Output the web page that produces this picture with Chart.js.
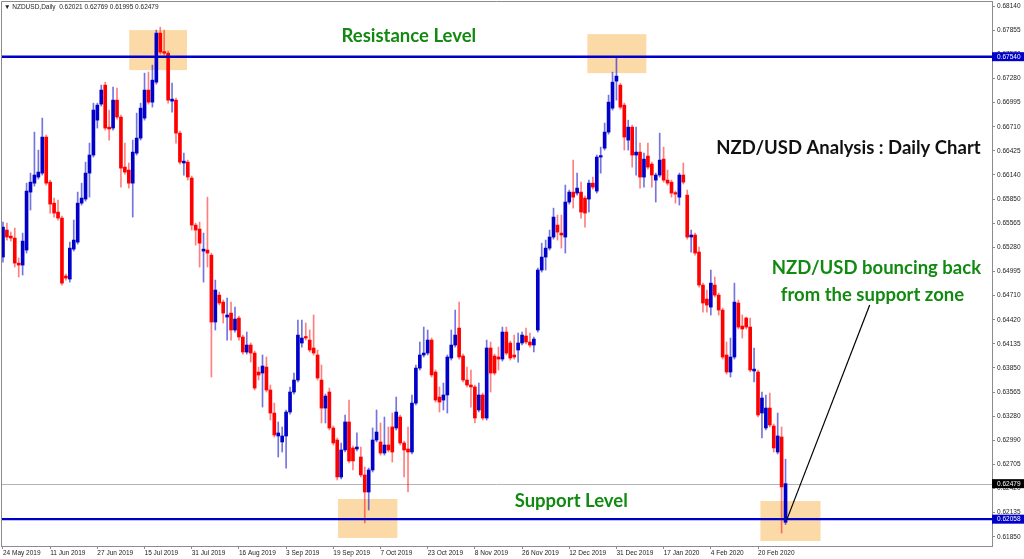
<!DOCTYPE html>
<html>
<head>
<meta charset="utf-8">
<script src="https://cdn.jsdelivr.net/npm/chart.js@4.4.0/dist/chart.umd.min.js"></script>
<style>
  html, body { margin: 0; padding: 0; background: #fff; }
  #wrap { width: 1024px; height: 559px; position: relative; }
</style>
</head>
<body>
<div id="wrap"><canvas id="chart"></canvas></div>
<script>
// NZDUSD daily candles, 24 May 2019 .. 2 Mar 2020
const opens = [
  0.65165,0.65485,0.65413,0.65390,0.65093,0.65070,0.65248,0.65935,0.66041,0.66113,
  0.66160,0.66587,0.66053,0.65804,0.65698,0.65627,0.64940,0.64904,0.65259,0.65342,
  0.65804,0.65852,0.66160,0.66374,0.66788,0.66978,0.67203,0.66705,0.66694,0.67025,
  0.66824,0.66231,0.66196,0.66041,0.66397,0.66575,0.66812,0.67144,0.67001,0.67238,
  0.67819,0.67594,0.67582,0.67013,0.67025,0.66634,0.66279,0.66290,0.66101,0.65544,
  0.65497,0.65236,0.65248,0.65188,0.64395,0.64714,0.64631,0.64454,0.64501,0.64300,
  0.64442,0.64217,0.64039,0.64122,0.64027,0.63802,0.63790,0.63861,0.63589,0.63316,
  0.63044,0.62973,0.63044,0.63328,0.63565,0.63707,0.64146,0.64217,0.64181,0.64087,
  0.64004,0.63707,0.63375,0.63565,0.63139,0.62996,0.62558,0.62878,0.63210,0.62902,
  0.62890,0.62795,0.62582,0.62380,0.62641,0.62996,0.62973,0.62842,0.62937,0.63151,
  0.63139,0.63269,0.62961,0.62890,0.62854,0.63434,0.63849,0.64004,0.64027,0.64181,
  0.63802,0.63506,0.63470,0.63530,0.63968,0.64122,0.64323,0.63992,0.63707,0.63648,
  0.63625,0.63352,0.63530,0.63257,0.64087,0.63992,0.63980,0.63956,0.64276,0.64146,
  0.64004,0.64063,0.64146,0.64229,0.64158,0.64122,0.64300,0.65011,0.65165,0.65271,
  0.65402,0.65544,0.65449,0.65402,0.65817,0.65935,0.65923,0.65935,0.65864,0.65852,
  0.66041,0.65947,0.66350,0.66456,0.66646,0.66930,0.67250,0.67203,0.66966,0.66551,
  0.66705,0.66374,0.66409,0.66113,0.66362,0.66267,0.66077,0.66137,0.66326,0.66077,
  0.66053,0.65923,0.65875,0.66137,0.65899,0.65402,0.65426,0.65224,0.64833,0.64667,
  0.64572,0.64833,0.64714,0.64537,0.64004,0.63802,0.63980,0.64620,0.64347,0.64442,
  0.64335,0.63814,0.63802,0.63316,0.63139,0.63375,0.63162,0.62854,0.63032,0.62021
];
const highs = [
  0.65579,0.65567,0.65461,0.65509,0.65153,0.65449,0.66041,0.66160,0.66646,0.66433,
  0.66812,0.66611,0.66077,0.65864,0.65840,0.65651,0.64964,0.65342,0.65603,0.65935,
  0.66041,0.66290,0.66516,0.66989,0.66989,0.67203,0.67238,0.66907,0.67179,0.67167,
  0.66848,0.66516,0.66279,0.66551,0.66871,0.66989,0.67345,0.67357,0.67440,0.67855,
  0.67890,0.67855,0.67606,0.67226,0.67049,0.66658,0.66397,0.66314,0.66125,0.65567,
  0.65579,0.65449,0.65875,0.65212,0.64892,0.64750,0.64655,0.64679,0.64631,0.64572,
  0.64466,0.64240,0.64276,0.64146,0.64051,0.63861,0.64004,0.63980,0.63648,0.63434,
  0.63210,0.63151,0.63352,0.63625,0.63790,0.64418,0.64418,0.64383,0.64300,0.64478,
  0.64063,0.63885,0.63541,0.63612,0.63162,0.63020,0.62961,0.63293,0.63470,0.62925,
  0.63080,0.62913,0.62676,0.62664,0.63139,0.63352,0.63198,0.63269,0.63151,0.63316,
  0.63506,0.63293,0.62985,0.63151,0.63530,0.63885,0.64158,0.64335,0.64300,0.64205,
  0.63826,0.63625,0.63672,0.64004,0.64300,0.64537,0.64631,0.64015,0.63861,0.63826,
  0.63648,0.63672,0.63553,0.64181,0.64158,0.64015,0.64098,0.64335,0.64335,0.64169,
  0.64240,0.64264,0.64276,0.64323,0.64264,0.64217,0.65034,0.65330,0.65366,0.65485,
  0.65745,0.65662,0.65662,0.66018,0.65959,0.66314,0.66160,0.66053,0.65887,0.66077,
  0.66113,0.66374,0.66468,0.66753,0.67084,0.67357,0.67535,0.67226,0.66989,0.66788,
  0.66729,0.66705,0.66516,0.66397,0.66516,0.66290,0.66160,0.66634,0.66468,0.66196,
  0.66077,0.65947,0.66160,0.66279,0.65959,0.65485,0.65449,0.65283,0.64856,0.64774,
  0.65011,0.64928,0.64738,0.64560,0.64158,0.64205,0.64856,0.64655,0.64478,0.64454,
  0.64442,0.64087,0.63826,0.63565,0.63530,0.63553,0.63186,0.63316,0.63151,0.62769
];
const lows = [
  0.65105,0.65366,0.65354,0.65046,0.64928,0.64952,0.65212,0.65722,0.66006,0.66089,
  0.66137,0.66018,0.65686,0.65639,0.65603,0.64833,0.64892,0.64868,0.65236,0.65319,
  0.65781,0.65828,0.65875,0.66350,0.66694,0.66954,0.66670,0.66551,0.66670,0.66800,
  0.65994,0.66148,0.65982,0.65639,0.66374,0.66551,0.66788,0.66978,0.66942,0.67215,
  0.67570,0.67559,0.66989,0.66883,0.66516,0.66267,0.66137,0.66077,0.65485,0.65307,
  0.65046,0.64868,0.65046,0.63743,0.64300,0.64596,0.64383,0.64181,0.64181,0.64276,
  0.64181,0.64015,0.64015,0.63920,0.63589,0.63707,0.63387,0.63565,0.63233,0.63032,
  0.62795,0.62854,0.62664,0.63304,0.63541,0.63684,0.64098,0.64181,0.64039,0.64004,
  0.63707,0.63198,0.63198,0.63115,0.62937,0.62522,0.62534,0.62854,0.62724,0.62641,
  0.62866,0.62558,0.62013,0.62167,0.62617,0.62973,0.62818,0.62818,0.62854,0.62735,
  0.63115,0.62937,0.62558,0.62380,0.62830,0.63411,0.63826,0.63980,0.64004,0.63743,
  0.63446,0.63328,0.63352,0.63316,0.63944,0.64098,0.63956,0.63684,0.63625,0.63387,
  0.63198,0.63328,0.63233,0.63233,0.63565,0.63767,0.63826,0.63932,0.64004,0.63944,
  0.63956,0.63920,0.64122,0.64134,0.64098,0.64039,0.64276,0.64987,0.65011,0.65248,
  0.65378,0.65366,0.65271,0.65212,0.65793,0.65745,0.65899,0.65627,0.65520,0.65698,
  0.65970,0.65923,0.66160,0.66433,0.66622,0.66907,0.67025,0.66919,0.66433,0.66433,
  0.66231,0.66137,0.65982,0.65994,0.66208,0.65994,0.65817,0.66113,0.66053,0.66018,
  0.65875,0.65804,0.65781,0.66030,0.65378,0.65224,0.65188,0.64809,0.64513,0.64513,
  0.64478,0.64691,0.64478,0.63956,0.63778,0.63743,0.63956,0.64312,0.64205,0.64312,
  0.63802,0.63684,0.63269,0.63020,0.63115,0.63151,0.62854,0.62830,0.61894,0.61995
];
const closes = [
  0.65520,0.65402,0.65390,0.65093,0.65070,0.65354,0.65947,0.66053,0.66137,0.66172,
  0.66587,0.66041,0.65793,0.65686,0.65627,0.64856,0.64916,0.65271,0.65366,0.65804,
  0.65864,0.66160,0.66374,0.66907,0.66966,0.67144,0.66694,0.66682,0.67025,0.66824,
  0.66219,0.66172,0.66041,0.66409,0.66575,0.66930,0.67144,0.67001,0.67262,0.67819,
  0.67594,0.67582,0.67025,0.67037,0.66634,0.66290,0.66302,0.66113,0.65544,0.65485,
  0.65330,0.65259,0.65212,0.64395,0.64774,0.64620,0.64501,0.64478,0.64300,0.64430,
  0.64217,0.64039,0.64122,0.64027,0.63612,0.63767,0.63873,0.63589,0.63316,0.63056,
  0.63080,0.63044,0.63328,0.63565,0.63707,0.64240,0.64205,0.64205,0.64063,0.64027,
  0.63731,0.63375,0.63517,0.63139,0.62961,0.62558,0.62878,0.63210,0.62748,0.62748,
  0.62913,0.62582,0.62380,0.62641,0.62996,0.63091,0.62842,0.62937,0.62878,0.62854,
  0.63328,0.62961,0.62878,0.62854,0.63434,0.63849,0.64004,0.64027,0.64181,0.63767,
  0.63470,0.63446,0.63530,0.63980,0.64122,0.64240,0.63980,0.63707,0.63648,0.63625,
  0.63257,0.63530,0.63257,0.64087,0.63790,0.63790,0.63956,0.64276,0.64027,0.63968,
  0.63980,0.64146,0.64240,0.64158,0.64122,0.64193,0.65011,0.65165,0.65271,0.65402,
  0.65639,0.65461,0.65426,0.65817,0.65935,0.65875,0.65982,0.65698,0.65686,0.66041,
  0.65994,0.66350,0.66362,0.66646,0.67001,0.67238,0.67310,0.66942,0.66587,0.66705,
  0.66374,0.66409,0.66113,0.66326,0.66231,0.66137,0.66137,0.66314,0.66077,0.66041,
  0.65923,0.65911,0.66137,0.66053,0.65402,0.65426,0.65212,0.64833,0.64620,0.64596,
  0.64856,0.64714,0.64537,0.63980,0.63802,0.63980,0.64631,0.64335,0.64312,0.64335,
  0.63826,0.63837,0.63293,0.63494,0.63375,0.63174,0.62902,0.63044,0.62440,0.62479
];

// every 12th bar gets a date on the time axis
const dateLabels = ['24 May 2019','11 Jun 2019','27 Jun 2019','15 Jul 2019','31 Jul 2019',
  '16 Aug 2019','3 Sep 2019','19 Sep 2019','7 Oct 2019','23 Oct 2019','8 Nov 2019',
  '26 Nov 2019','12 Dec 2019','31 Dec 2019','17 Jan 2020','4 Feb 2020','20 Feb 2020'];
const priceTicks = [0.68140,0.67855,0.67570,0.67280,0.66995,0.66710,0.66425,0.66140,
  0.65850,0.65565,0.65280,0.64995,0.64710,0.64420,0.64135,0.63850,0.63565,0.63280,
  0.62990,0.62705,0.62420,0.62135,0.61850];

const resistance = 0.67540;
const support = 0.62058;
const lastPrice = 0.62479;

// highlighted zones: [first bar, last bar, top price, bottom price]
const zones = [
  [32.1, 46.8, 0.67855, 0.67381],
  [148.6, 163.6, 0.67807, 0.67345],
  [85.2, 100.3, 0.62297, 0.61835],
  [192.6, 207.9, 0.62273, 0.61799]
];

const totalSlots = 252;
const labels = [];
for (let i = 0; i < totalSlots; i++) {
  labels.push(i % 12 === 0 && i / 12 < dateLabels.length ? dateLabels[i / 12] : '');
}

const BLUE = '#0000c8';
const RED = '#ff0000';
const GREEN = '#128a12';

const up = closes.map((c, i) => c >= opens[i]);
const bodies = opens.map((o, i) => [Math.min(o, closes[i]), Math.max(o, closes[i])]);
const wicks = lows.map((l, i) => [l, highs[i]]);

const overlay = {
  id: 'overlay',
  beforeDatasetsDraw(chart) {
    const { ctx, scales: { x, y } } = chart;
    ctx.save();
    ctx.fillStyle = '#fcdaa8';
    zones.forEach(z => {
      const x0 = x.getPixelForValue(z[0]), x1 = x.getPixelForValue(z[1]);
      const y0 = y.getPixelForValue(z[2]), y1 = y.getPixelForValue(z[3]);
      ctx.fillRect(x0, y0, x1 - x0, y1 - y0);
    });
    // last price line
    const area = chart.chartArea;
    const yl = Math.round(y.getPixelForValue(lastPrice)) + 0.5;
    ctx.strokeStyle = '#b4b4b4';
    ctx.lineWidth = 1;
    ctx.beginPath();
    ctx.moveTo(area.left, yl);
    ctx.lineTo(area.right, yl);
    ctx.stroke();
    ctx.restore();
  },
  afterDatasetsDraw(chart) {
    const { ctx, scales: { x, y } } = chart;
    const area = chart.chartArea;
    ctx.save();
    ctx.strokeStyle = BLUE;
    ctx.lineWidth = 2.4;
    [resistance, support].forEach(v => {
      const py = y.getPixelForValue(v);
      ctx.beginPath();
      ctx.moveTo(area.left, py);
      ctx.lineTo(area.right, py);
      ctx.stroke();
    });
    // pointer from the last candle to the comment
    ctx.strokeStyle = '#000';
    ctx.lineWidth = 1.2;
    ctx.beginPath();
    ctx.moveTo(x.getPixelForValue(199.3), y.getPixelForValue(0.62050));
    ctx.lineTo(x.getPixelForValue(220.4), y.getPixelForValue(0.64596));
    ctx.stroke();
    ctx.restore();
  },
  afterDraw(chart) {
    const { ctx, scales: { x, y } } = chart;
    const area = chart.chartArea;
    ctx.save();
    // frame top / left
    ctx.strokeStyle = '#8c8c8c';
    ctx.lineWidth = 1;
    ctx.beginPath();
    ctx.moveTo(area.left + 0.5, area.bottom);
    ctx.lineTo(area.left + 0.5, area.top + 0.5);
    ctx.lineTo(area.right, area.top + 0.5);
    ctx.stroke();

    // header
    ctx.fillStyle = '#222';
    ctx.font = '6.5px "Liberation Sans"';
    ctx.textBaseline = 'middle';
    ctx.textAlign = 'left';
    ctx.fillText('\u25BC NZDUSD,Daily  0.62021 0.62769 0.61995 0.62479', area.left + 3, area.top + 6);

    // price boxes on the axis
    const boxes = [[resistance, BLUE], [support, BLUE], [lastPrice, '#000']];
    boxes.forEach(([v, col]) => {
      const py = y.getPixelForValue(v);
      ctx.fillStyle = col;
      ctx.fillRect(area.right, py - 4.5, chart.width - area.right, 9);
      ctx.fillStyle = '#fff';
      ctx.fillText(v.toFixed(5), area.right + 5, py + 0.5);
    });

    // comments
    ctx.textAlign = 'center';
    ctx.font = 'bold 18.5px Lato';
    ctx.fillStyle = GREEN;
    ctx.fillText('Resistance Level', x.getPixelForValue(103.2), y.getPixelForValue(0.67784));
    ctx.fillText('Support Level', x.getPixelForValue(144.5), y.getPixelForValue(0.62273));
    ctx.fillText('NZD/USD bouncing back', x.getPixelForValue(222.1), y.getPixelForValue(0.65034));
    ctx.fillText('from the support zone', x.getPixelForValue(221.1), y.getPixelForValue(0.64714));
    ctx.fillStyle = '#111';
    ctx.fillText('NZD/USD Analysis : Daily Chart', x.getPixelForValue(215), y.getPixelForValue(0.66456));
    ctx.restore();
  }
};

new Chart(document.getElementById('chart'), {
  type: 'bar',
  data: {
    labels: labels,
    datasets: [
      {
        label: 'body',
        data: bodies,
        backgroundColor: up.map(u => u ? BLUE : RED),
        barThickness: 3,
        minBarLength: 1.5,
        grouped: false,
        borderWidth: 0,
        order: 0
      },
      {
        label: 'wick',
        data: wicks,
        backgroundColor: up.map(u => u ? 'rgba(0,0,200,0.55)' : 'rgba(255,0,0,0.5)'),
        barThickness: 1,
        grouped: false,
        borderWidth: 0,
        order: 1
      }
    ]
  },
  options: {
    responsive: true,
    maintainAspectRatio: false,
    animation: false,
    layout: { padding: { left: 1, top: 1, right: 0, bottom: 0 } },
    plugins: { legend: { display: false }, tooltip: { enabled: false } },
    scales: {
      x: {
        type: 'category',
        offset: true,
        grid: { display: true, drawOnChartArea: false, drawTicks: true, tickLength: 3, offset: false, color: '#8c8c8c' },
        border: { display: true, color: '#8c8c8c' },
        ticks: {
          autoSkip: false, maxRotation: 0, minRotation: 0, align: 'start', padding: 0,
          color: '#222', font: { family: 'Liberation Sans', size: 6.5 }
        },
        afterBuildTicks: s => { s.ticks = s.ticks.filter(t => labels[t.value] !== ''); },
        afterFit: s => { s.height = 13; s.paddingLeft = 0; s.paddingRight = 0; }
      },
      y: {
        type: 'linear',
        position: 'right',
        min: 0.6174,
        max: 0.6820,
        grid: { display: true, drawOnChartArea: false, drawTicks: true, tickLength: 3, color: '#8c8c8c' },
        border: { display: true, color: '#8c8c8c' },
        ticks: {
          padding: 2, color: '#222', font: { family: 'Liberation Sans', size: 6.5 },
          callback: v => v.toFixed(5)
        },
        afterBuildTicks: s => { s.ticks = priceTicks.map(v => ({ value: v })); },
        afterFit: s => { s.width = 32; s.paddingTop = 0; s.paddingBottom = 0; }
      }
    }
  },
  plugins: [overlay]
});
</script>
</body>
</html>
